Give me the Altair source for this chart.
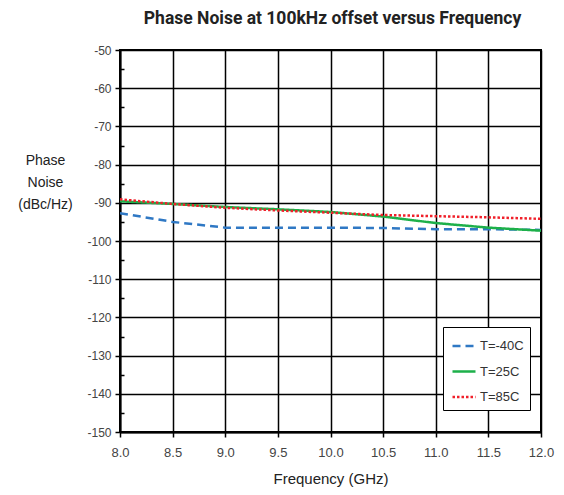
import altair as alt
import pandas as pd

freq = [8.0, 8.5, 9.0, 9.5, 10.0, 10.5, 11.0, 11.5, 12.0]
t_m40 = [-92.7, -95.0, -96.5, -96.5, -96.5, -96.6, -96.9, -96.9, -97.1]
t_25 = [-89.6, -90.3, -91.1, -91.7, -92.4, -93.6, -95.3, -96.5, -97.3]
t_85 = [-89.1, -90.3, -91.3, -92.0, -92.6, -93.2, -93.5, -93.8, -94.2]
series_names = ["T=-40C", "T=25C", "T=85C"]
series_colors = ["#2F78C4", "#1DB04A", "#F0202A"]
series_dash = [[8, 5], [1, 0], [2.5, 2]]
x_ticks = [8.0, 8.5, 9.0, 9.5, 10.0, 10.5, 11.0, 11.5, 12.0]
y_ticks = [-50, -60, -70, -80, -90, -100, -110, -120, -130, -140, -150]
y_minor = [-55, -65, -75, -85, -95, -105, -115, -125, -135, -145]

rows = []
for name, vals in zip(series_names, [t_m40, t_25, t_85]):
    for f, v in zip(freq, vals):
        rows.append({"Frequency": f, "Noise": v, "Series": name})
df = pd.DataFrame(rows)

legend_kw = dict(title=None, orient="none", legendX=323, legendY=277)

base = alt.Chart(df)

lines = base.mark_line(strokeWidth=2.5, clip=True).encode(
    x=alt.X("Frequency:Q",
            scale=alt.Scale(domain=[8.0, 12.0], nice=False),
            axis=alt.Axis(values=x_ticks, format=".1f", title="Frequency (GHz)",
                          titleFontSize=15, titleFontWeight="normal", titlePadding=12,
                          labelPadding=9, labelFlush=False, labelFontSize=13)),
    y=alt.Y("Noise:Q",
            scale=alt.Scale(domain=[-150, -50], nice=False),
            axis=alt.Axis(values=y_ticks, labelExpr="'' + datum.value",
                          title=["Phase", "Noise", "(dBc/Hz)"],
                          titleAngle=0, titleX=-75, titleY=103,
                          titleAlign="center", titleBaseline="top",
                          titleFontSize=14, titleFontWeight="normal",
                          titleLineHeight=22, labelPadding=4, labelFontSize=12)),
    color=alt.Color("Series:N",
                    scale=alt.Scale(domain=series_names, range=series_colors),
                    legend=alt.Legend(**legend_kw)),
    strokeDash=alt.StrokeDash("Series:N",
                              scale=alt.Scale(domain=series_names, range=series_dash),
                              legend=alt.Legend(**legend_kw)),
)

minor = base.mark_point(opacity=0).encode(
    y=alt.Y("Noise:Q",
            scale=alt.Scale(domain=[-150, -50], nice=False),
            axis=alt.Axis(values=y_minor, labels=False, title=None, grid=False,
                          domain=False, tickSize=4, offset=-4, orient="left")),
)

chart = alt.layer(lines, minor).resolve_axis(y="independent").properties(
    width=421,
    height=382,
    autosize=alt.AutoSizeParams(type="none"),
    padding={"left": 112, "top": 42, "right": 15, "bottom": 55},
    title=alt.Title("Phase Noise at 100kHz offset versus Frequency",
                    fontSize=17.5, fontWeight="bold", font="Roboto",
                    color="#222222", offset=17, anchor="middle", dx=2),
).configure_view(
    stroke="black", strokeWidth=2
).configure_axis(
    grid=True, gridColor="black", gridWidth=1.5, gridOpacity=1,
    domainColor="black", domainWidth=2,
    tickColor="black", tickWidth=1.5, tickSize=5,
    labelFont="Liberation Sans", labelColor="#444444",
    titleFont="Liberation Sans", titleColor="#222222",
).configure_legend(
    strokeColor="black", fillColor="white", padding=6, cornerRadius=0,
    symbolType="stroke", symbolSize=529, symbolStrokeWidth=2.5,
    labelFont="Liberation Sans", labelFontSize=13, labelColor="#333333",
    rowPadding=5.5, symbolOffset=2, labelOffset=3,
)

chart.save("out.html", embed_options={"renderer": "svg", "actions": False})
